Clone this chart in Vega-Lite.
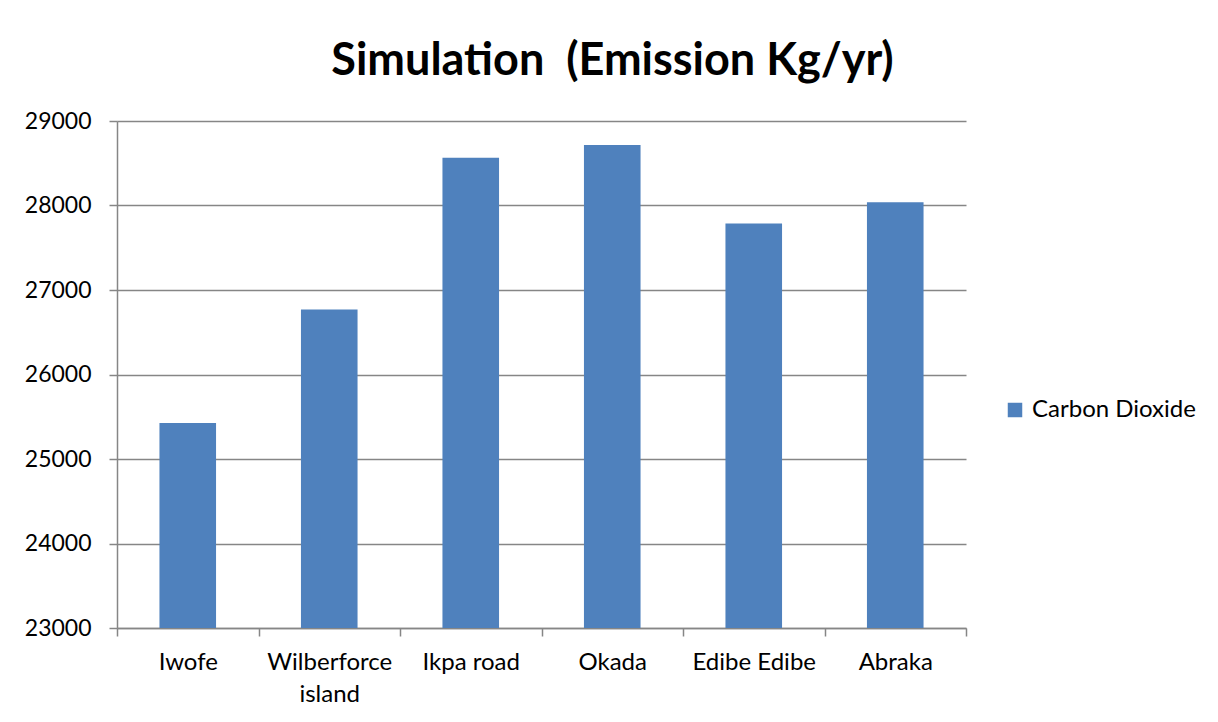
{
  "$schema": "https://vega.github.io/schema/vega-lite/v6.json",
  "width": 849,
  "height": 507,
  "autosize": "none",
  "padding": {"left": 117, "top": 121, "right": 252, "bottom": 94},
  "background": "white",
  "title": {
    "text": "Simulation\u00a0 (Emission Kg/yr)",
    "font": "Lato",
    "fontSize": 45,
    "fontWeight": "bold",
    "color": "black",
    "anchor": "middle",
    "frame": "group",
    "dx": 71,
    "offset": -10,
    "baseline": "alphabetic"
  },
  "data": {
    "values": [
      {"site": "Iwofe", "series": "Carbon Dioxide", "co2": 25425},
      {"site": "Wilberforce island", "series": "Carbon Dioxide", "co2": 26769},
      {"site": "Ikpa road", "series": "Carbon Dioxide", "co2": 28565},
      {"site": "Okada", "series": "Carbon Dioxide", "co2": 28716},
      {"site": "Edibe Edibe", "series": "Carbon Dioxide", "co2": 27788},
      {"site": "Abraka", "series": "Carbon Dioxide", "co2": 28037}
    ]
  },
  "mark": {"type": "bar", "clip": true, "width": {"band": 0.4}},
  "encoding": {
    "x": {
      "field": "site",
      "type": "nominal",
      "sort": null,
      "scale": {"paddingInner": 0, "paddingOuter": 0},
      "axis": {
        "title": null,
        "labelAngle": 0,
        "labelFont": "Lato",
        "labelFontSize": 24,
        "labelColor": "black",
        "labelPadding": 14,
        "labelLineHeight": 32,
        "labelExpr": "datum.label == 'Wilberforce island' ? ['Wilberforce', 'island'] : datum.label",
        "tickBand": "extent",
        "tickSize": 8,
        "tickColor": "#868686",
        "tickWidth": 1.5,
        "domainColor": "#868686",
        "domainWidth": 1.5,
        "grid": false
      }
    },
    "y": {
      "field": "co2",
      "type": "quantitative",
      "scale": {"domain": [23000, 29000], "nice": false, "zero": false},
      "axis": {
        "title": null,
        "values": [23000, 24000, 25000, 26000, 27000, 28000, 29000],
        "format": "d",
        "labelFont": "Lato",
        "labelFontSize": 23,
        "labelColor": "black",
        "labelPadding": 18,
        "tickSize": 8,
        "tickColor": "#868686",
        "tickWidth": 1.5,
        "domainColor": "#868686",
        "domainWidth": 1.5,
        "grid": true,
        "gridColor": "#868686",
        "gridWidth": 1.5
      }
    },
    "color": {
      "field": "series",
      "type": "nominal",
      "scale": {"range": ["#4F81BD"]},
      "legend": {
        "title": null,
        "orient": "none",
        "legendX": 886,
        "legendY": 277,
        "padding": 0,
        "symbolType": "square",
        "symbolSize": 210,
        "symbolStrokeWidth": 0,
        "symbolOpacity": 1,
        "labelFont": "Lato",
        "labelFontSize": 24,
        "labelColor": "black",
        "labelOffset": 5,
        "labelLimit": 400
      }
    }
  },
  "config": {
    "view": {"stroke": null}
  }
}
